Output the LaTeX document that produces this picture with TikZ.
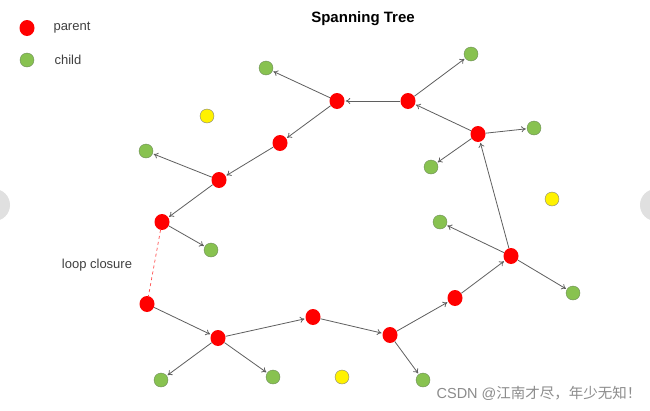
\documentclass[tikz,border=0pt]{standalone}
\usepackage{fontspec}
\setmainfont{Liberation Sans}
\newfontfamily\cjk{Noto Sans CJK SC}
\usetikzlibrary{arrows.meta}

\definecolor{leaf}{RGB}{136,194,80}
\definecolor{leafborder}{RGB}{110,140,90}
\definecolor{edgegray}{RGB}{95,95,95}

\tikzstyle{parent} = [ellipse, fill=red, minimum width=15pt, minimum height=16pt, inner sep=0pt]
\tikzstyle{child} = [circle, fill=leaf, draw=leafborder, minimum size=14pt, inner sep=0pt]
\tikzstyle{free} = [circle, fill=yellow, draw=gray, minimum size=14pt, inner sep=0pt]
\tikzstyle{link} = [draw=edgegray, line width=0.8pt, -{To[length=4.5pt,width=6pt]}, shorten >=1pt]

\usetikzlibrary{shapes.geometric}

\begin{document}
\begin{tikzpicture}[x=1pt, y=-1pt, font=\fontsize{13}{15}\selectfont]
\clip (0,0) rectangle (650,410);
\fill[white] (0,0) rectangle (650,410);
\fill[black!12] (-6,205) circle (16);
\fill[black!12] (656,205) circle (16);

% legend and title
\node[parent] (key1) at (27,28) {};
\node[anchor=west, text=black!75] at (50,28) {parent};
\node[child] (key2) at (27,60) {};
\node[anchor=west, text=black!75] at (51,60) {child};
\node[font=\bfseries\fontsize{15}{17}\selectfont] (title) at (363,19) {Spanning Tree};

% parents
\node[parent] (p1) at (337,101) {};
\node[parent] (p2) at (408,101) {};
\node[parent] (p3) at (478,134) {};
\node[parent] (p4) at (280,143) {};
\node[parent] (p5) at (219,180) {};
\node[parent] (p6) at (162,222) {};
\node[parent] (p7) at (147,304) {};
\node[parent] (p8) at (218,338) {};
\node[parent] (p9) at (313,317) {};
\node[parent] (p10) at (390,335) {};
\node[parent] (p11) at (455,298) {};
\node[parent] (p12) at (511,256) {};

% children
\node[child] (c1) at (266,68) {};
\node[child] (c2) at (471,54) {};
\node[child] (c3) at (534,128) {};
\node[child] (c4) at (431,167) {};
\node[child] (c5) at (146,151) {};
\node[child] (c6) at (211,250) {};
\node[child] (c7) at (440,222) {};
\node[child] (c8) at (573,293) {};
\node[child] (c9) at (161,380) {};
\node[child] (c10) at (273,377) {};
\node[child] (c11) at (423,380) {};

% not in the tree
\node[free] (y1) at (207,116) {};
\node[free] (y2) at (552,199) {};
\node[free] (y3) at (342,377) {};

\foreach \a/\b in {p2/p1, p1/c1, p1/p4, p4/p5, p5/c5, p5/p6, p6/c6,
    p7/p8, p8/c9, p8/c10, p8/p9, p9/p10, p10/c11, p10/p11, p11/p12,
    p12/c7, p12/c8, p12/p3, p3/p2, p3/c3, p3/c4, p2/c2}
    \draw[link] (\a) -- (\b);

\draw[red!70, dashed, line width=0.7pt] (p6) -- (p7);
\node[text=black!75] (loop) at (97,265) {loop closure};

\node[anchor=east, text=black!45, font=\fontsize{14.5}{16}\selectfont] (mark) at (645,393) {CSDN @{\cjk 江南才尽，年少无知！}};
\end{tikzpicture}
\end{document}
